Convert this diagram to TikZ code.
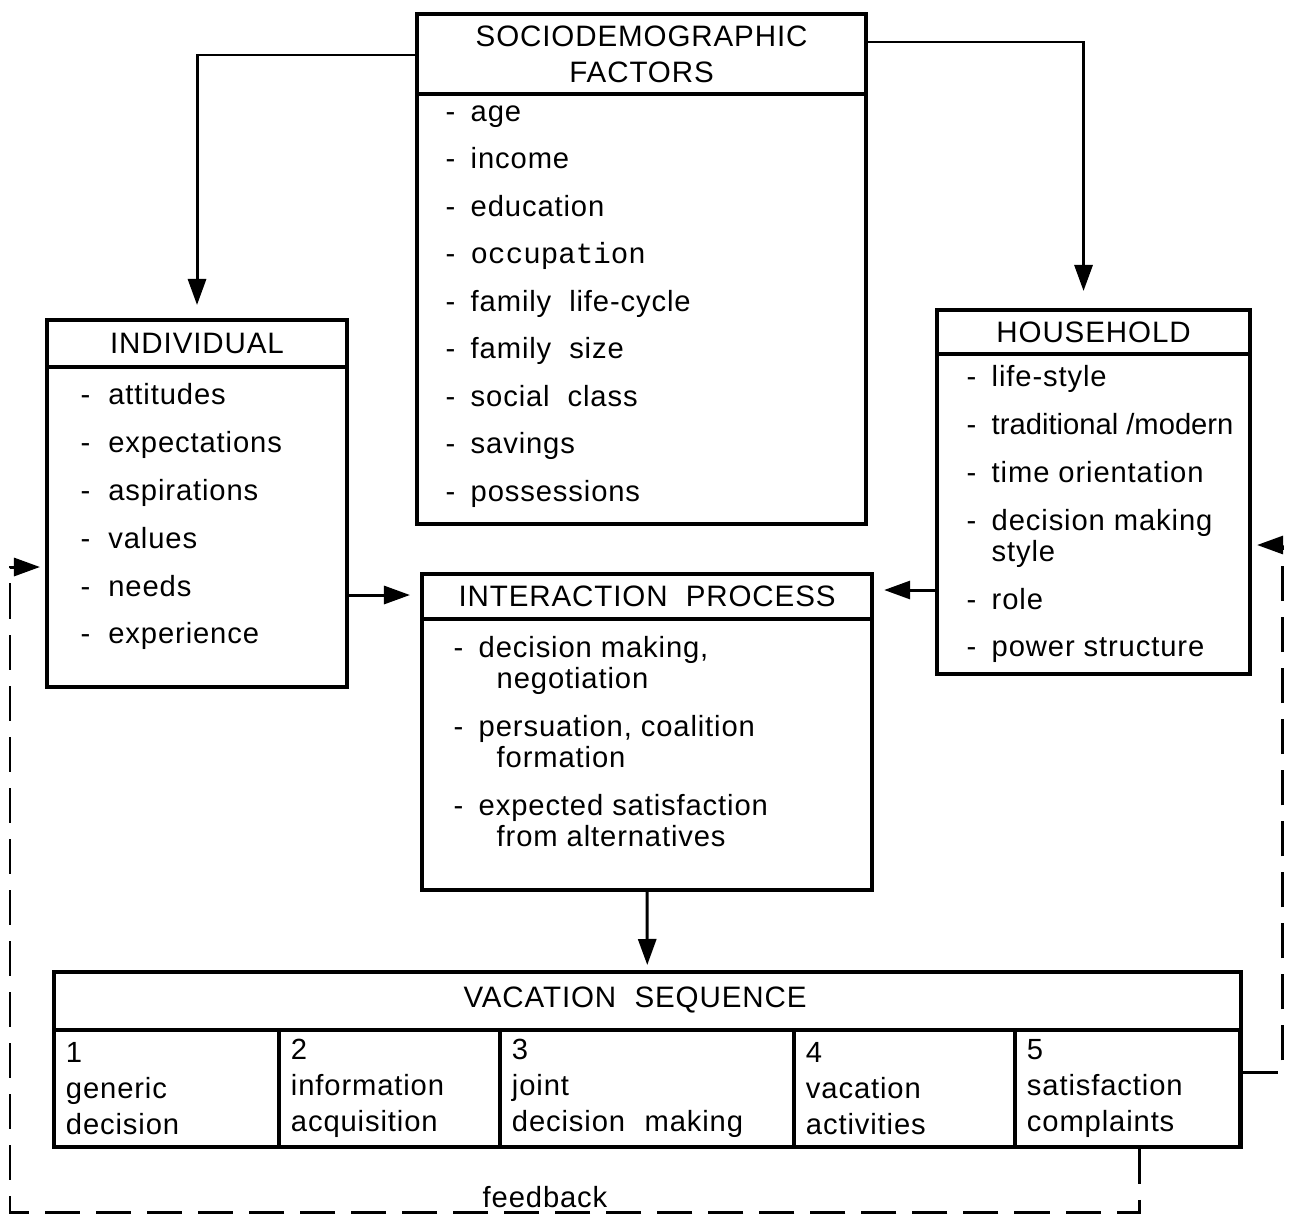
\documentclass[tikz,border=0pt]{standalone}
\usepackage{fontspec}
\setmainfont{Liberation Sans}[LetterSpace=3]
\newfontfamily\typewriter{Liberation Mono}
\usetikzlibrary{positioning,arrows.meta}

\newcommand{\itemgap}{\\[4.7pt]}
\newcommand{\dash}{\makebox[0.25cm][l]{-}}
\newcommand{\contd}{\hspace*{0.43cm}}

\tikzset{
  box/.style={draw, line width=1.1pt, rectangle, anchor=north west, inner sep=0pt},
  headbox/.style={draw, line width=1.1pt, rectangle, anchor=north, align=center, font=\fontsize{8.4}{10.2}\selectfont},
  title/.style={font=\fontsize{8.4}{10.2}\selectfont},
  items/.style={anchor=north west, align=left, inner sep=0pt, font=\fontsize{8.3}{8.8}\selectfont},
  cell/.style={draw, line width=1.1pt, rectangle, anchor=north west, align=left, inner xsep=0.12cm, inner ysep=1pt, font=\fontsize{8.3}{10.2}\selectfont},
  arrow/.style={line width=0.85pt, -{Triangle[length=2.6mm,width=1.8mm]}},
  feedback/.style={arrow, dash pattern=on 0.35cm off 0.16cm},
}

\begin{document}
\begin{tikzpicture}[x=0.01cm, y=-0.01cm]
  \useasboundingbox (0,0) rectangle (1292,1224);

  % Sociodemographic factors
  \node [box, minimum width=4.49cm, minimum height=5.10cm] (socio) at (415,12) {};
  \node [headbox, minimum width=4.49cm, minimum height=0.78cm] (sociohead) at (socio.north) {SOCIODEMOGRAPHIC\\FACTORS};
  \node [items] (socioitems) at (445,105) {\dash age\itemgap
    \dash income\itemgap
    \dash education\itemgap
    \dash {\typewriter occupation}\itemgap
    \dash family\ \ life-cycle\itemgap
    \dash family\ \ size\itemgap
    \dash social\ \ class\itemgap
    \dash savings\itemgap
    \dash possessions};

  % Individual
  \node [box, minimum width=3.00cm, minimum height=3.67cm] (individual) at (45,318) {};
  \node [headbox, minimum width=3.00cm, minimum height=0.47cm] (indivhead) at (individual.north) {INDIVIDUAL};
  \node [items] (indivitems) at (80,383) {-\ \ attitudes\\[4.8pt]
    -\ \ expectations\\[4.8pt]
    -\ \ aspirations\\[4.8pt]
    -\ \ values\\[4.8pt]
    -\ \ needs\\[4.8pt]
    -\ \ experience};

  % Household
  \node [box, minimum width=3.13cm, minimum height=3.64cm] (household) at (935,308) {};
  \node [headbox, minimum width=3.13cm, minimum height=0.44cm] (househead) at (household.north) {HOUSEHOLD};
  \node [items] (houseitems) at (966,365) {\dash life-style\\[4.8pt]
    \dash {\addfontfeatures{LetterSpace=0}traditional /modern}\\[4.8pt]
    \dash time orientation\\[4.8pt]
    \dash decision making\\
    \hspace*{0.25cm}style\\[4.8pt]
    \dash role\\[4.8pt]
    \dash power structure};

  % Interaction process
  \node [box, minimum width=4.50cm, minimum height=3.16cm] (interaction) at (420,572) {};
  \node [headbox, minimum width=4.50cm, minimum height=0.45cm] (interhead) at (interaction.north) {INTERACTION\ \ PROCESS};
  \node [items] (interitems) at (453,636) {\dash decision making,\\
    \contd negotiation\\[4.8pt]
    \dash persuation, coalition\\
    \contd formation\\[4.8pt]
    \dash expected satisfaction\\
    \contd from alternatives};

  % Vacation sequence
  \node [box, minimum width=11.86cm, minimum height=1.75cm] (vacation) at (52,970) {};
  \node [title] (vachead) at (635,1000) {VACATION\ \ SEQUENCE};
  \node [cell, text width=2.01cm, minimum height=1.17cm] (cell1) at (52,1028) {1\\generic\\decision};
  \node [cell, text width=1.97cm, minimum height=1.17cm] (cell2) at (277,1028) {2\\information\\acquisition};
  \node [cell, text width=2.70cm, minimum height=1.17cm] (cell3) at (498,1028) {3\\joint\\decision\ \ making};
  \node [cell, text width=1.97cm, minimum height=1.17cm] (cell4) at (792,1028) {4\\vacation\\activities};
  \node [cell, text width=2.01cm, minimum height=1.17cm] (cell5) at (1013,1028) {5\\satisfaction\\complaints};

  % Arrows
  \draw [arrow, shorten >=0.13cm] (socio.west |- 0,55) -| (individual.north);
  \draw [arrow, shorten >=0.17cm] (socio.east |- 0,42) -| ([xshift=-0.1cm]household.north);
  \draw [arrow, shorten >=0.1cm] (individual.east |- 0,595) -- (interaction.west |- 0,595);
  \draw [arrow, shorten >=0.1cm] (household.west |- 0,590) -- (interaction.east |- 0,590);
  \draw [arrow, shorten >=0.05cm] (interaction.south) -- (vacation.north);

  % Feedback
  \coordinate (fbleft) at (10,1212);
  \coordinate (fbright) at (1282,545);
  \draw [feedback, shorten >=0.05cm] ([xshift=0.12cm]cell5.south) |- (fbleft) |- (individual.west |- 0,567);
  \draw [feedback, shorten >=0.05cm] (vacation.east |- 0,1072) -| (fbright) -- (household.east |- fbright);
  \node [title, font=\fontsize{8.3}{10}\selectfont] (fblabel) at (545,1197) {feedback};
\end{tikzpicture}
\end{document}
